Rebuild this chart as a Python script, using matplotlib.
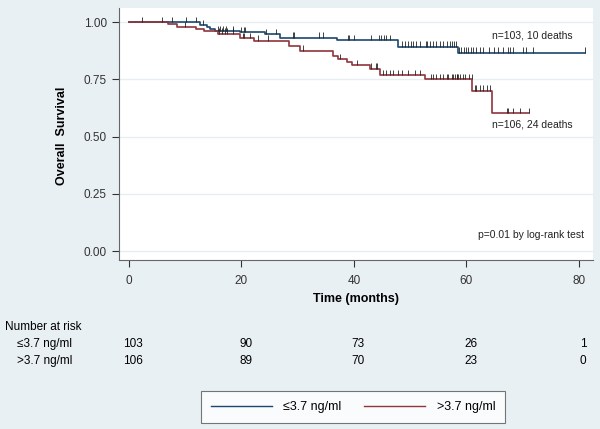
import matplotlib.pyplot as plt
import matplotlib.transforms as mtransforms
import numpy as np

plt.rcParams['font.family'] = ['Liberation Sans', 'DejaVu Sans']

# step times (months) and survival level after each step
low_times = [12.6, 13.8, 14.4, 15.3, 19.7, 24.2, 26.8, 37.0, 47.9, 58.5]
low_surv = [0.987, 0.977, 0.968, 0.960, 0.955, 0.946, 0.931, 0.921, 0.892, 0.866]
low_censor = [2.4, 5.8, 7.6, 10.1, 11.9, 13.2, 15.9, 16.2, 16.8, 17.3, 18.5, 20.0, 20.4, 20.7,
              24.3, 26.1, 29.1, 29.4, 33.8, 34.6, 39.0, 39.2, 40.0, 43.1, 44.5, 44.9, 45.4,
              45.8, 46.4, 48.6, 49.1, 49.7, 50.1, 50.5, 51.1, 51.7, 52.8, 53.1, 53.5, 54.1,
              54.7, 55.3, 55.9, 56.5, 57.1, 57.4, 57.8, 58.1, 58.7, 59.1, 59.6, 60.0, 60.3,
              60.8, 61.2, 61.8, 62.4, 62.9, 64.1, 64.9, 65.7, 66.5, 67.4, 67.7, 68.3, 70.1,
              70.7, 71.8, 81.1]

high_times = [7.0, 8.5, 12.0, 13.3, 15.8, 19.7, 22.2, 28.5, 30.4, 36.3, 37.2, 38.7, 39.6,
              42.8, 44.6, 52.6, 61.1, 64.6]
high_surv = [0.990, 0.978, 0.968, 0.960, 0.950, 0.930, 0.918, 0.897, 0.875, 0.850, 0.837,
             0.827, 0.812, 0.797, 0.769, 0.751, 0.700, 0.601]
high_censor = [10.0, 16.0, 16.5, 17.0, 17.5, 18.5, 20.3, 20.5, 21.5, 22.9, 24.7, 31.0, 37.5,
               40.5, 43.0, 43.9, 44.1, 45.2, 45.8, 46.4, 47.0, 47.9, 48.5, 49.7, 50.8, 51.7,
               53.8, 54.1, 54.7, 55.3, 55.9, 56.5, 56.8, 57.4, 57.7, 58.0, 58.3, 58.4, 58.6,
               58.9, 59.5, 59.8, 60.4, 61.0, 61.5, 61.8, 62.4, 63.0, 63.6, 64.3, 67.2, 67.5,
               68.3, 69.5, 71.1]

risk_times = [0, 20, 40, 60, 80]
risk_low = [103, 90, 73, 26, 1]
risk_high = [106, 89, 70, 23, 0]

bg = '#e9f0f3'
blue = '#1a476f'
red = '#90353b'

fig = plt.figure(figsize=(6, 4.29), dpi=100, facecolor=bg)
ax = fig.add_axes([0.198, 0.394, 0.79, 0.587])
ax.set_facecolor('white')


def draw_km(times, surv, censor, end, color):
    t = np.concatenate([[0], times, [end]])
    s = np.concatenate([[1.0], surv, [surv[-1]]])
    ax.step(t, s, where='post', color=color, lw=1.2, zorder=3)
    c = np.array(censor)
    idx = np.searchsorted(times, c, side='right')
    sc = np.concatenate([[1.0], surv])[idx]
    ax.vlines(c, sc, sc + 0.024, color='#222222', lw=0.6, zorder=4)


draw_km(low_times, low_surv, low_censor, max(low_censor), blue)
draw_km(high_times, high_surv, high_censor, max(high_censor), red)

ax.set_xlim(-1.8, 82.5)
ax.set_ylim(-0.039, 1.061)
ax.set_yticks([0, 0.25, 0.5, 0.75, 1.0])
ax.set_yticklabels(['0.00', '0.25', '0.50', '0.75', '1.00'])
ax.set_xticks(risk_times)
ax.grid(axis='y', color='#e6eef1', lw=1)
ax.set_axisbelow(True)
for side in ['top', 'right']:
    ax.spines[side].set_visible(False)
for side in ['left', 'bottom']:
    ax.spines[side].set_color('#666666')
ax.tick_params(colors='#333333', labelsize=8.5, length=5, width=0.8)
ax.tick_params(axis='x', pad=6)

ax.text(64.5, 0.93, 'n=103, 10 deaths', fontsize=7.5, color='#222222')
ax.text(64.5, 0.54, 'n=106, 24 deaths', fontsize=7.5, color='#222222')
ax.text(81, 0.055, 'p=0.01 by log-rank test', fontsize=7.5, color='#222222', ha='right')

fig.text(62 / 600, 1 - 136 / 429, 'Overall  Survival', rotation=90, fontsize=9,
         fontweight='bold', ha='center', va='center')
fig.text(356 / 600, 1 - 299 / 429, 'Time (months)', fontsize=9, fontweight='bold',
         ha='center', va='center')

# number at risk table
tr = mtransforms.blended_transform_factory(ax.transData, fig.transFigure)
fig.text(5 / 600, 1 - 327 / 429, 'Number at risk', fontsize=8.5, va='center')
fig.text(17 / 600, 1 - 344 / 429, '≤3.7 ng/ml', fontsize=8.5, va='center')
fig.text(17 / 600, 1 - 361 / 429, '>3.7 ng/ml', fontsize=8.5, va='center')
for t, a, b in zip(risk_times, risk_low, risk_high):
    ax.text(t + 0.8, 1 - 344 / 429, str(a), transform=tr, fontsize=8.5, ha='center', va='center')
    ax.text(t + 0.8, 1 - 361 / 429, str(b), transform=tr, fontsize=8.5, ha='center', va='center')

# legend
handles = [plt.Line2D([], [], color=blue, lw=1), plt.Line2D([], [], color=red, lw=1)]
leg = fig.legend(handles, ['≤3.7 ng/ml', '>3.7 ng/ml'], loc='center',
                 bbox_to_anchor=(353 / 600, 1 - 407 / 429), ncol=2, fontsize=9,
                 frameon=True, fancybox=False, handlelength=4.9, columnspacing=1.8,
                 borderpad=0.8, handletextpad=0.9, borderaxespad=0)
leg.get_frame().set_edgecolor('#555555')
leg.get_frame().set_linewidth(0.8)

fig.savefig('out.png', dpi=100, facecolor=bg)
